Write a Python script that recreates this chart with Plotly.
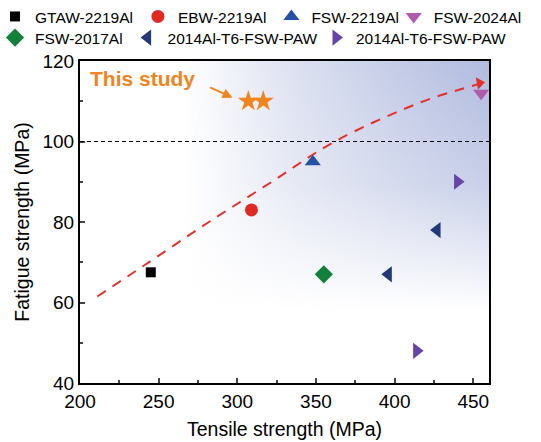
import base64
import plotly.graph_objects as go

# ---------------- data ----------------
gtaw_x = [245]; gtaw_y = [67.5]
ebw_x = [309]; ebw_y = [83]
fsw2219_x = [348]; fsw2219_y = [95]
fsw2024_x = [455]; fsw2024_y = [112]
fsw2017_x = [355]; fsw2017_y = [67]
paw_left_x = [396, 427]; paw_left_y = [67, 78]
paw_right_x = [414, 440]; paw_right_y = [48, 90]
study_x = [307, 316.5]; study_y = [110, 110]

fit_x = [211, 240, 280, 320, 362, 415, 442, 457]
fit_y = [61.5, 69, 79.5, 89.5, 100, 109.5, 113, 114.6]
fit_end_x = [454]; fit_end_y = [114.5]

threshold = 100
x_ticks = [200, 250, 300, 350, 400, 450]
y_ticks = [40, 60, 80, 100, 120]

FONT = "Arial, Liberation Sans, sans-serif"
BLUE = "#b1bbdf"

fig = go.Figure()

# gradient background (image)
svg = ('<svg xmlns="http://www.w3.org/2000/svg" width="100" height="100" viewBox="0 0 100 100" preserveAspectRatio="none">'
       '<defs>'
       f'<linearGradient id="h" x1="0" y1="0" x2="1" y2="0">'
       f'<stop offset="0" stop-color="{BLUE}" stop-opacity="0"/>'
       f'<stop offset="0.38" stop-color="{BLUE}" stop-opacity="0.46"/>'
       f'<stop offset="0.7" stop-color="{BLUE}" stop-opacity="0.76"/>'
       f'<stop offset="1" stop-color="{BLUE}" stop-opacity="1"/></linearGradient>'
       '<linearGradient id="v" x1="0" y1="0" x2="0" y2="1">'
       '<stop offset="0" stop-color="white" stop-opacity="1"/>'
       '<stop offset="0.5" stop-color="white" stop-opacity="0.7"/>'
       '<stop offset="1" stop-color="white" stop-opacity="0"/></linearGradient>'
       '<mask id="m"><rect width="100" height="100" fill="url(#v)"/></mask>'
       '</defs><rect width="100" height="100" fill="url(#h)" mask="url(#m)"/></svg>')
src = "data:image/svg+xml;base64," + base64.b64encode(svg.encode()).decode()
fig.add_layout_image(dict(source=src, xref="x", yref="y", x=265, y=120,
                          sizex=195, sizey=62, sizing="stretch", layer="below",
                          xanchor="left", yanchor="top"))

fig.add_trace(go.Scatter(x=fit_x, y=fit_y, mode="lines", line=dict(color="#e4302a", width=2, dash="10px,8px", shape="spline"),
                         showlegend=False, hoverinfo="skip"))
fig.add_trace(go.Scatter(x=fit_end_x, y=fit_end_y, mode="markers",
                         marker=dict(symbol="triangle-right", size=11, color="#e4302a", angle=-10),
                         showlegend=False))

def pts(x, y, name, sym, color, size, legend):
    fig.add_trace(go.Scatter(x=x, y=y, mode="markers", name=name, legend=legend,
                             marker=dict(symbol=sym, size=size, color=color, line=dict(width=0))))

pts(gtaw_x, gtaw_y, "GTAW-2219Al", "square", "#000000", 10, "legend")
pts(ebw_x, ebw_y, "EBW-2219Al", "circle", "#e02922", 13, "legend")
pts(fsw2219_x, fsw2219_y, "FSW-2219Al", "triangle-up", "#2451a5", 14, "legend")
pts(fsw2024_x, fsw2024_y, "FSW-2024Al", "triangle-down", "#b05aac", 14, "legend2")
pts(fsw2017_x, fsw2017_y, "FSW-2017Al", "diamond", "#12803a", 14, "legend3")
pts(paw_left_x, paw_left_y, "2014Al-T6-FSW-PAW", "triangle-left", "#22387a", 14, "legend3")
pts(paw_right_x, paw_right_y, "2014Al-T6-FSW-PAW", "triangle-right", "#6546a8", 14, "legend4")

fig.add_trace(go.Scatter(x=study_x, y=study_y, mode="markers", showlegend=False,
                         marker=dict(symbol="star", size=16, color="#f0841e", line=dict(width=0))))

fig.add_shape(type="line", xref="paper", x0=0, x1=1, yref="y", y0=threshold, y1=threshold,
              line=dict(color="black", width=1, dash="4px,3px"))

fig.add_annotation(x=240, y=115.6, xref="x", yref="y", text="<b>This study</b>", showarrow=False,
                   font=dict(family=FONT, size=21, color="#f0841e"))
fig.add_annotation(x=297, y=110.9, xref="x", yref="y", ax=-24, ay=-11, text="", showarrow=True,
                   arrowhead=2, arrowsize=1, arrowwidth=2, arrowcolor="#f0841e")

leg_common = dict(orientation="h", font=dict(family=FONT, size=15.5, color="black"),
                  bgcolor="rgba(0,0,0,0)", xanchor="left", yanchor="middle", itemsizing="trace")
row1 = 1.137
row2 = 1.0714
fig.update_layout(
    width=541, height=442,
    margin=dict(l=80, r=52, t=61, b=59, autoexpand=False),
    paper_bgcolor="white", plot_bgcolor="rgba(0,0,0,0)",
    font=dict(family=FONT, size=19, color="black"),
    legend=dict(x=-0.2078, y=row1, **leg_common),
    legend2=dict(x=0.767, y=row1, **leg_common),
    legend3=dict(x=-0.2078, y=row2, **leg_common),
    legend4=dict(x=0.577, y=row2, **leg_common),
    xaxis=dict(range=[200, 460], tickvals=x_ticks, ticks="inside", ticklen=5, tickwidth=2,
               showline=True, linewidth=2, linecolor="black", mirror=True, showgrid=False, zeroline=False,
               minor=dict(dtick=25, tick0=200, ticks="inside", ticklen=3, tickwidth=2, showgrid=False),
               title=dict(text="Tensile strength (MPa)", font=dict(size=19.5), standoff=12),
               tickfont=dict(size=19)),
    yaxis=dict(range=[40, 120], tickvals=y_ticks, ticks="inside", ticklen=5, tickwidth=2,
               showline=True, linewidth=2, linecolor="black", mirror=True, showgrid=False, zeroline=False,
               minor=dict(dtick=10, tick0=40, ticks="inside", ticklen=3, tickwidth=2, showgrid=False),
               title=dict(text="Fatigue strength (MPa)", font=dict(size=19.5), standoff=8),
               tickfont=dict(size=19)),
)

fig.write_html("out.html", config={"displayModeBar": False},
               post_script="document.body.style.margin='0';document.body.style.overflow='hidden';")
